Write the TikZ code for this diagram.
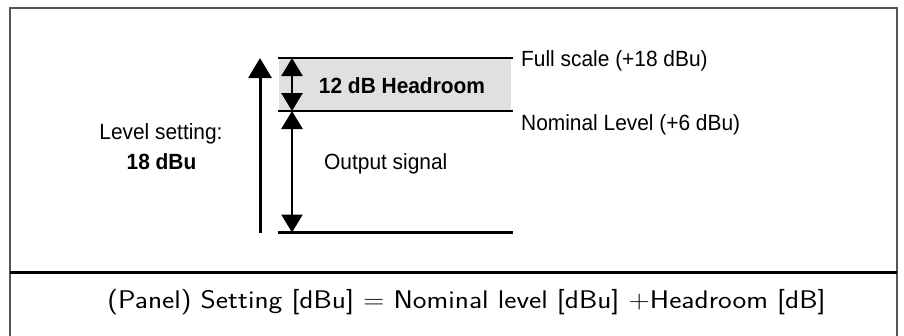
\documentclass[tikz,border=0pt]{standalone}
\usepackage{fontspec}
\usepackage{graphicx}
\usetikzlibrary{arrows.meta}
\newfontfamily\arialfont[FakeStretch=0.95]{Liberation Sans}
\definecolor{hdgray}{HTML}{E0E0E0}
\definecolor{framegray}{HTML}{555555}
\tikzset{
  lvl/.style={line width=2.6pt},
  bigarrow/.style={line width=3pt,-{Triangle[width=23pt,length=20pt]}},
  dblarrow/.style={line width=2.6pt,{Triangle[width=21pt,length=18pt]}-{Triangle[width=21pt,length=18pt]}},
  lbl/.style={inner sep=0pt,font=\arialfont\fontsize{22}{26}\selectfont},
  blbl/.style={lbl,font=\arialfont\bfseries\fontsize{22}{26}\selectfont},
}
\begin{document}
\begin{tikzpicture}[x=1pt,y=-1pt]
\useasboundingbox (0,0) rectangle (904,335);
% frame
\draw[framegray,line width=2pt] (9.5,340) -- (9.5,7.5) -- (897,7.5) -- (897,340);
\coordinate (dl) at (9.5,272.5);
\coordinate (dr) at (897,272.5);
\draw[line width=2.5pt] (dl) -- (dr);
% headroom band
\fill[hdgray] (279,58) rectangle (511,111);
\coordinate (t1) at (278,58);  \coordinate (t2) at (513,58);
\coordinate (m1) at (278,111); \coordinate (m2) at (513,111);
\coordinate (b1) at (278,232.5); \coordinate (b2) at (513,232.5);
\draw[lvl] (t1) -- (t2);
\draw[lvl] (m1) -- (m2);
\draw[lvl] (b1) -- (b2);
% arrows
\coordinate (bigS) at (260,233);
\coordinate (bigE) at (260,58);
\draw[bigarrow] (bigS) -- (bigE);
\coordinate (hT) at (292,58);
\coordinate (hM) at (292,111);
\coordinate (hB) at (292,232.5);
\draw[dblarrow] (hT) -- (hM);
\draw[dblarrow] (hM) -- (hB);
% labels
\node[blbl,anchor=base] (head) at (402,93.3) {12 dB Headroom};
\node[lbl,anchor=base west] (full) at (521,66.5) {Full scale (+18 dBu)};
\node[lbl,anchor=base west] (nom) at (521,130) {Nominal Level (+6 dBu)};
\node[lbl,anchor=base] (lev) at (161,139.3) {Level setting:};
\node[blbl,anchor=base] (val) at (161.5,169.3) {18 dBu};
\node[lbl,anchor=base west] (out) at (324,169.3) {Output signal};
% formula
\node[inner sep=0pt,anchor=base] (form) at (466.5,308)
  {\resizebox{718pt}{\height}{\sffamily\fontsize{25.5}{30}\selectfont (Panel) Setting [dBu] = Nominal level [dBu] +Headroom [dB]}};
\end{tikzpicture}
\end{document}
